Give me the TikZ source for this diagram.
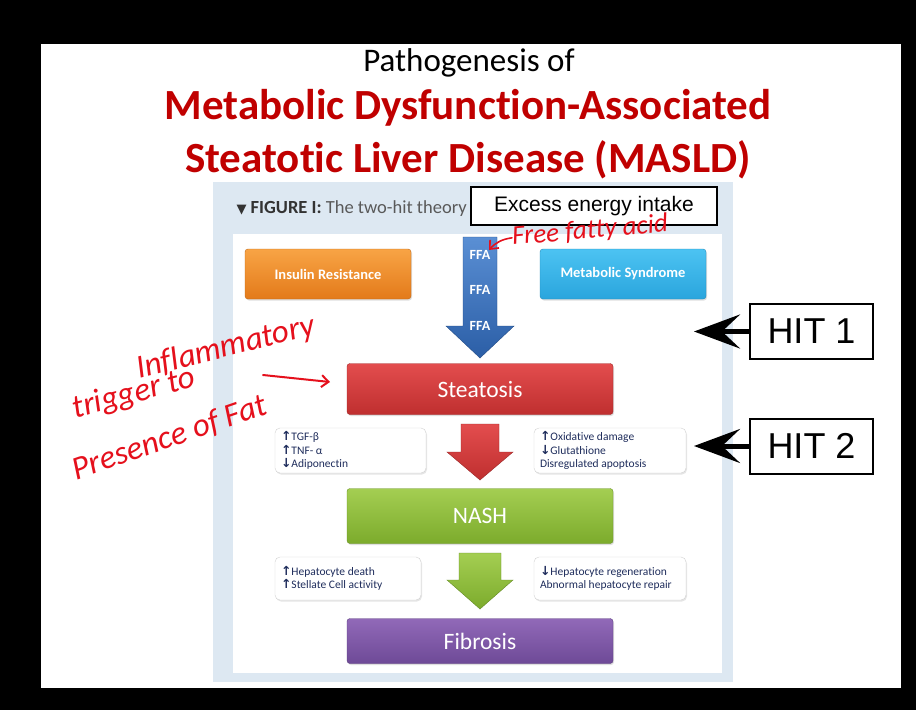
\documentclass[tikz,border=0pt]{standalone}
\usepackage{fontspec}
\setmainfont{Carlito}[Ligatures=NoCommon]
\newfontfamily\arialfont{Liberation Sans}
\newfontfamily\symfont{DejaVu Sans}
\usetikzlibrary{arrows.meta,shadows}

\definecolor{titlered}{HTML}{C00000}
\definecolor{panelblue}{HTML}{DDE8F2}
\definecolor{navy}{HTML}{1F2D5C}
\definecolor{inkred}{HTML}{E5101C}
\definecolor{orgtop}{HTML}{F8A445}\definecolor{orgbot}{HTML}{E37A1A}
\definecolor{cyantop}{HTML}{4CC3F2}\definecolor{cyanbot}{HTML}{2AA5DD}
\definecolor{redtop}{HTML}{E34D4E}\definecolor{redbot}{HTML}{BF2F2F}
\definecolor{greentop}{HTML}{A4CE52}\definecolor{greenbot}{HTML}{7CAB2C}
\definecolor{purptop}{HTML}{9169B8}\definecolor{purpbot}{HTML}{6E4A97}
\definecolor{bluetop}{HTML}{5A8FD4}\definecolor{bluebot}{HTML}{2B5EA6}

\newcommand{\up}{{\symfont\bfseries\fontsize{12.5}{12.5}\selectfont ↑}}
\newcommand{\down}{{\symfont\bfseries\fontsize{12.5}{12.5}\selectfont ↓}}

\begin{document}
\begin{tikzpicture}[x=1pt,y=-1pt,
  stage/.style={rounded corners=3pt,inner sep=0pt,text=white,draw=#1bot!85!black,line width=0.4pt,
    top color=#1top,bottom color=#1bot,drop shadow={opacity=0.25,shadow xshift=1pt,shadow yshift=-1.5pt}},
  infobox/.style={rounded corners=5pt,draw=gray!35,fill=white,inner xsep=6pt,inner ysep=0pt,
    align=flush left,text=navy,font=\fontsize{11.5}{13.5}\selectfont,
    drop shadow={opacity=0.2,shadow xshift=1pt,shadow yshift=-1.5pt}},
  hitbox/.style={draw=black,line width=2pt,fill=white,font=\arialfont\fontsize{36}{36}\selectfont,
    minimum width=123pt,minimum height=55pt,inner sep=0pt},
  hitarrow/.style={line width=5pt,-{Stealth[length=46pt,width=34pt,inset=18pt]}},
  ink/.style={text=inkred,font=\itshape\fontsize{33}{33}\selectfont,inner sep=0pt},
  inkarrow/.style={draw=inkred,line width=2pt,line cap=round,-{Straight Barb[length=7pt,width=12pt]}}]
\useasboundingbox (0,0) rectangle (916,710);
\fill[black] (0,0) rectangle (916,710);
\fill[white] (41,44) rectangle (901,688);

% title
\node[font=\fontsize{33}{36}\selectfont] (title) at (469,63) {Pathogenesis of};
\node[font=\bfseries\fontsize{43}{46}\selectfont,text=titlered] (title2) at (468,108) {Metabolic Dysfunction-Associated};
\node[font=\bfseries\fontsize{43}{46}\selectfont,text=titlered] (title3) at (468,160) {Steatotic Liver Disease (MASLD)};

% figure panel
\fill[panelblue] (213,182) rectangle (733,682);
\fill[white] (233,234) rectangle (722,673);
\node[anchor=west,font=\fontsize{18.5}{20}\selectfont,text=black!80] (figlabel) at (233,209)
  {{\symfont\fontsize{13}{13}\selectfont ▼} \textbf{FIGURE I:} {\color{black!65}The two-hit theory}};
\node[draw=black,line width=2pt,fill=white,font=\arialfont\fontsize{21}{21}\selectfont,
  minimum width=246pt,minimum height=38pt,inner sep=0pt] (excess) at (594,206) {Excess energy intake};

% top boxes
\node[stage=org,minimum width=166pt,minimum height=50pt,font=\bfseries\fontsize{14.5}{16}\selectfont] (insulin) at (328,274) {Insulin Resistance};
\node[stage=cyan,minimum width=166pt,minimum height=50pt,font=\bfseries\fontsize{14.5}{16}\selectfont] (metsyn) at (623,274) {Metabolic Syndrome};

% FFA arrow
\shade[top color=bluetop,bottom color=bluebot,draw=bluebot!80!black,line width=0.4pt]
  (463,237) -- (497,237) -- (497,326) -- (514,326) -- (480,358) -- (446,326) -- (463,326) -- cycle;
\foreach \y/\n in {255/1,290/2,326/3}
  \node[text=white,font=\bfseries\fontsize{14}{14}\selectfont] (ffa\n) at (480,\y) {FFA};

% stages
\node[stage=red,minimum width=266pt,minimum height=51pt,font=\fontsize{23.5}{25}\selectfont] (steatosis) at (480,389) {Steatosis};
\node[stage=green,minimum width=266pt,minimum height=55pt,font=\fontsize{23.5}{25}\selectfont] (nash) at (480,516) {NASH};
\node[stage=purp,minimum width=266pt,minimum height=45pt,font=\fontsize{23.5}{25}\selectfont] (fibrosis) at (480,641) {Fibrosis};

% block arrows between stages
\shade[top color=redtop,bottom color=redbot,draw=redbot!80!black,line width=0.4pt]
  (461,424) -- (499,424) -- (499,452) -- (513,452) -- (480,480) -- (447,452) -- (461,452) -- cycle;
\shade[top color=greentop,bottom color=greenbot,draw=greenbot!80!black,line width=0.4pt]
  (459,553) -- (501,553) -- (501,580) -- (513,580) -- (480,609) -- (447,580) -- (459,580) -- cycle;

% side factors
\node[infobox,minimum width=151pt,minimum height=45pt,text width=139pt] (hit2l) at (350.5,450.5)
  {\up TGF-β\\\up TNF- α\\\down Adiponectin};
\node[infobox,minimum width=152pt,minimum height=45pt,text width=140pt] (hit2r) at (610,450.5)
  {\up Oxidative damage\\\down Glutathione\\Disregulated apoptosis};
\node[infobox,minimum width=146pt,minimum height=43pt,text width=134pt] (fibl) at (348,578.5)
  {\up Hepatocyte death\\\up Stellate Cell activity};
\node[infobox,minimum width=152pt,minimum height=43pt,text width=140pt] (fibr) at (610,578.5)
  {\down Hepatocyte regeneration\\\mbox{Abnormal hepatocyte repair}};

% hit labels
\node[hitbox] (hit1) at (811.5,331.5) {HIT 1};
\node[hitbox] (hit2) at (811.5,446) {HIT 2};
\coordinate (hit1tip) at (694,331.5);
\coordinate (hit2tip) at (694,446);
\draw[hitarrow] (hit1.west) -- (hit1tip);
\draw[hitarrow] (hit2.west) -- (hit2tip);

% handwritten notes
\node[ink,rotate=14] (inflam) at (226,348) {Inflammatory};
\node[ink,rotate=15] (trigger) at (134,394) {trigger to};
\node[ink,rotate=19] (presence) at (170,438) {Presence of Fat};
\coordinate (inkstart) at (263,375);
\coordinate (inkend) at (330,382);
\draw[inkarrow] (inkstart) -- (inkend);
\node[ink,rotate=5,font=\itshape\fontsize{27}{27}\selectfont] (ffanote) at (590,231) {Free fatty acid};
\coordinate (ffatip) at (489,250);
\draw[inkarrow,line width=1.6pt] (ffanote.west) to[bend right=20] (ffatip);
\end{tikzpicture}
\end{document}
